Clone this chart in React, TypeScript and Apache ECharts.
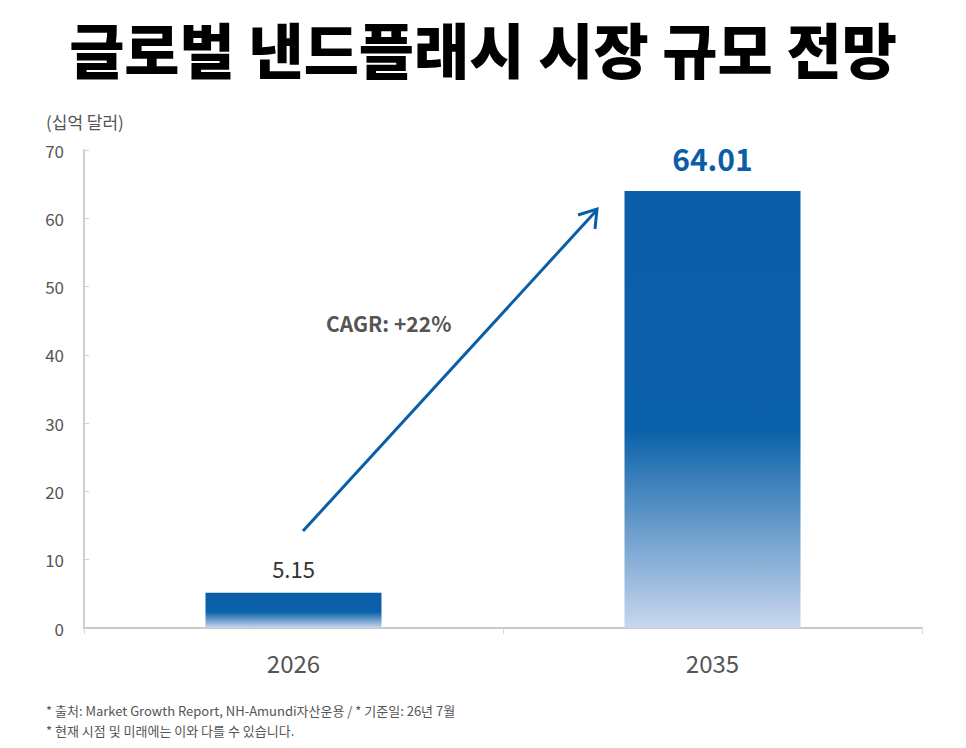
import { useEffect, useRef } from "react";
import * as echarts from "echarts";

const categories = ["2026", "2035"];
const marketSize = [5.15, 64.01];
const yTicks = [0, 10, 20, 30, 40, 50, 60, 70];
const titleText = "글로벌 낸드플래시 시장 규모 전망";
const unitText = "(십억 달러)";
const cagrText = "CAGR: +22%";
const notes = [
  "* 출처: Market Growth Report, NH-Amundi자산운용 / * 기준일: 26년 7월",
  "* 현재 시점 및 미래에는 이와 다를 수 있습니다.",
];

const FONT = "'Noto Sans CJK KR', 'Noto Sans', sans-serif";

const barGradient = () =>
  new echarts.graphic.LinearGradient(0, 0, 0, 1, [
    { offset: 0, color: "#0A5EA8" },
    { offset: 0.55, color: "#0C62AA" },
    { offset: 1, color: "#C9D7EE" },
  ]);

export default function App() {
  const chartRef = useRef<HTMLDivElement>(null);

  useEffect(() => {
    if (!chartRef.current) return;
    const chart = echarts.init(chartRef.current, undefined, { renderer: "svg" });

    chart.setOption({
      animation: false,
      grid: { left: 84, right: 44, top: 150, bottom: 120 },
      title: {
        text: titleText,
        left: "center",
        top: 10,
        textStyle: { fontFamily: FONT, fontSize: 60, lineHeight: 64, fontWeight: 900, color: "#000" },
      },
      xAxis: {
        type: "category",
        data: categories,
        axisLine: { lineStyle: { color: "#c8c8c8", width: 2 } },
        axisTick: { show: true, length: 6, lineStyle: { color: "#d8d8d8" } },
        axisLabel: { color: "#555", fontSize: 24, fontFamily: FONT, margin: 22 },
      },
      yAxis: {
        type: "value",
        min: 0,
        max: 70,
        interval: 10,
        axisLine: { show: true, lineStyle: { color: "#d0d0d0", width: 2 } },
        axisTick: { show: true, length: 5, inside: true, lineStyle: { color: "#d0d0d0" } },
        splitLine: { show: false },
        axisLabel: {
          color: "#555",
          fontSize: 17,
          fontFamily: FONT,
          margin: 20,
          formatter: (v: number) => (yTicks.includes(v) ? String(v) : ""),
        },
      },
      series: [
        {
          type: "bar",
          data: marketSize.map((v, i) => ({
            value: v,
            label: {
              show: true,
              position: "top",
              distance: i === 0 ? 14 : 18,
              fontFamily: FONT,
              fontSize: i === 0 ? 22 : 30,
              fontWeight: i === 0 ? "normal" : "bold",
              color: i === 0 ? "#333" : "#0A5EA8",
            },
          })),
          barWidth: 176,
          itemStyle: { color: barGradient() },
        },
      ],
      graphic: [
        {
          type: "text",
          left: 46,
          top: 113,
          style: { text: unitText, fontFamily: FONT, fontSize: 17, fill: "#555" },
        },
        {
          type: "line",
          shape: { x1: 303, y1: 531, x2: 596, y2: 211 },
          style: { stroke: "#0A5EA8", lineWidth: 3 },
        },
        {
          type: "polyline",
          shape: { points: [[578, 215], [597, 209], [595, 229]] },
          style: { stroke: "#0A5EA8", lineWidth: 3, fill: "none" },
        },
        {
          type: "text",
          left: 326,
          top: 312,
          style: { text: cagrText, fontFamily: FONT, fontSize: 21, fontWeight: "bold", fill: "#555" },
        },
        {
          type: "text",
          left: 46,
          top: 700,
          style: { text: notes.join("\n"), fontFamily: FONT, fontSize: 13, lineHeight: 20, fill: "#555" },
        },
      ],
    });

    return () => chart.dispose();
  }, []);

  return (
    <div
      ref={chartRef}
      style={{ position: "absolute", left: 0, top: 0, width: 966, height: 748, background: "#fff" }}
    />
  );
}
